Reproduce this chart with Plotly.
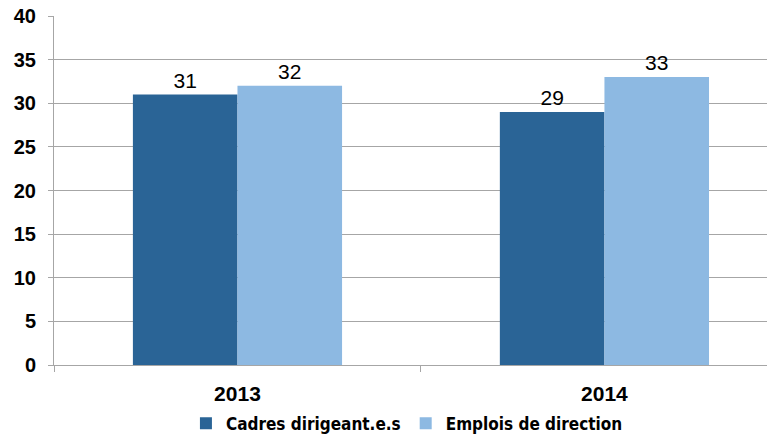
import plotly.graph_objects as go

years = ["2013", "2014"]
cadres = [31, 29]
emplois = [32, 33]
series_names = ["Cadres dirigeant.e.s", "Emplois de direction"]
y_ticks = [0, 5, 10, 15, 20, 25, 30, 35, 40]

DARK = "#2A6496"
LIGHT = "#8DB9E2"
GRID = "#A6A6A6"

fig = go.Figure()

for name, vals, col in [(series_names[0], cadres, DARK), (series_names[1], emplois, LIGHT)]:
    fig.add_trace(go.Bar(
        x=years,
        y=vals,
        name=name,
        marker=dict(color=col, line=dict(width=0)),
        text=[str(v) for v in vals],
        textposition="outside",
        textfont=dict(family="Liberation Sans", size=21, color="#000000"),
        cliponaxis=False,
    ))

fig.update_layout(
    width=767,
    height=442,
    margin=dict(l=54, r=0, t=16, b=69),
    paper_bgcolor="white",
    plot_bgcolor="white",
    barmode="group",
    bargap=0.43,
    bargroupgap=0,
    showlegend=True,
    legend=dict(
        orientation="h",
        x=0.495, xanchor="center",
        y=-0.168, yanchor="middle",
        font=dict(family="DejaVu Sans Condensed, DejaVu Sans", size=17, color="#000000", weight="bold"),
        itemwidth=30,
        traceorder="normal",
    ),
)

fig.update_xaxes(
    type="category",
    range=[-0.5, 1.443],   # right side of the chart is cropped in the original
    automargin=False,
    showline=True,
    linecolor=GRID,
    linewidth=1,
    ticks="outside",
    tickson="boundaries",
    ticklen=6,
    tickcolor=GRID,
    tickfont=dict(family="Liberation Sans", size=21, color="#000000", weight="bold"),
    ticklabelstandoff=10,
    showgrid=False,
)

fig.update_yaxes(
    range=[0, 40],
    tickvals=y_ticks,
    automargin=False,
    ticklabeloverflow="allow",
    showline=True,
    linecolor=GRID,
    linewidth=1,
    ticks="outside",
    ticklen=5,
    tickcolor=GRID,
    showgrid=True,
    gridcolor=GRID,
    gridwidth=1,
    zeroline=False,
    tickfont=dict(family="Liberation Sans", size=20, color="#000000", weight="bold"),
    ticklabelstandoff=8,
)

# drop the default 8px body margin so the figure sits at the window's corner
fig.write_html(
    "out.html",
    config={"displayModeBar": False},
    post_script="document.body.style.margin='0';",
)
